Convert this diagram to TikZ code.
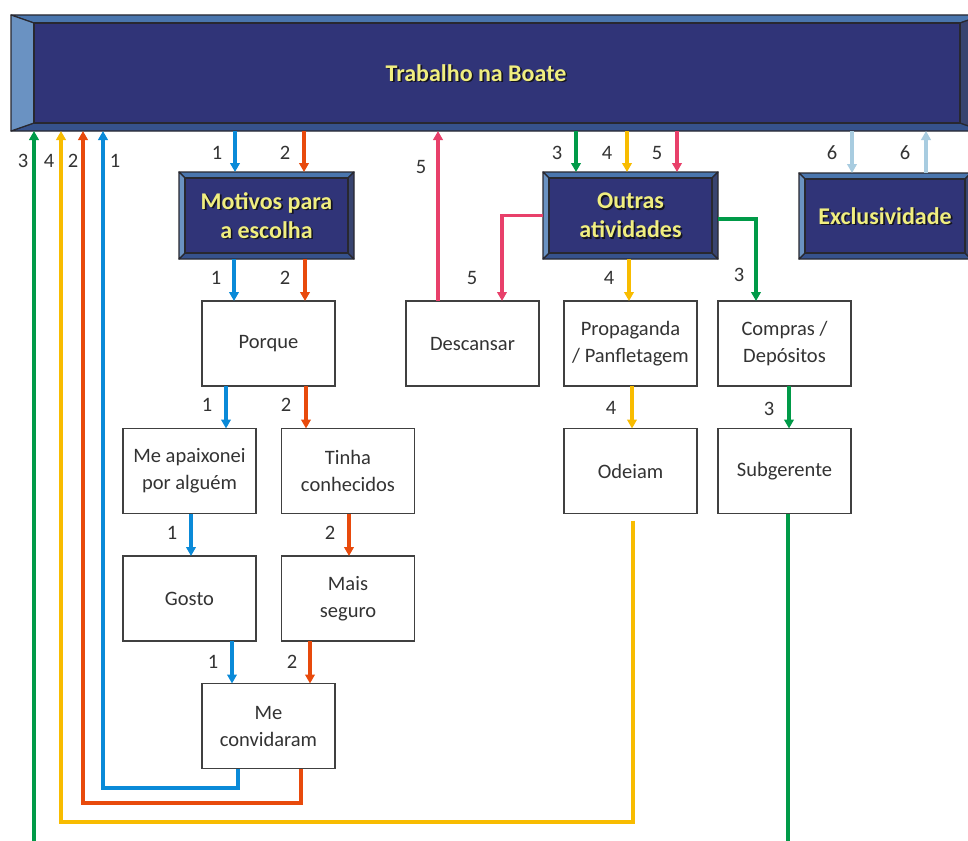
\documentclass[tikz,border=0pt]{standalone}
\usepackage{fontspec}
\setmainfont{Carlito}
\usetikzlibrary{calc,arrows.meta}

\definecolor{face}{RGB}{48,52,120}
\definecolor{bvtop}{RGB}{74,118,174}
\definecolor{bvleft}{RGB}{106,146,194}
\definecolor{bvbot}{RGB}{54,82,140}
\definecolor{bvright}{RGB}{57,68,112}
\definecolor{bvedge}{RGB}{40,40,48}
\definecolor{ytext}{RGB}{240,238,128}
\definecolor{yshadow}{RGB}{20,20,30}
\definecolor{boxline}{RGB}{64,64,64}
\definecolor{txt}{RGB}{51,51,51}
\definecolor{blueA}{RGB}{10,138,216}
\definecolor{redA}{RGB}{232,74,12}
\definecolor{yellowA}{RGB}{248,188,0}
\definecolor{greenA}{RGB}{0,154,72}
\definecolor{pinkA}{RGB}{232,64,106}
\definecolor{lightA}{RGB}{168,204,224}

% bevelled box: name, cx, cy, width, height, side bevel, top/bottom bevel
\newcommand\bevbox[7]{%
  \node[inner sep=0, outer sep=0, minimum width=#4pt, minimum height=#5pt] (#1) at (#2,#3) {};
  \filldraw[fill=bvtop, draw=bvedge, line width=1.2pt, line join=round]
    (#1.north west) -- (#1.north east) -- ([xshift=-#6pt,yshift=-#7pt]#1.north east)
    -- ([xshift=#6pt,yshift=-#7pt]#1.north west) -- cycle;
  \filldraw[fill=bvbot, draw=bvedge, line width=1.2pt, line join=round]
    (#1.south west) -- (#1.south east) -- ([xshift=-#6pt,yshift=#7pt]#1.south east)
    -- ([xshift=#6pt,yshift=#7pt]#1.south west) -- cycle;
  \filldraw[fill=bvleft, draw=bvedge, line width=1.2pt, line join=round]
    (#1.north west) -- ([xshift=#6pt,yshift=-#7pt]#1.north west)
    -- ([xshift=#6pt,yshift=#7pt]#1.south west) -- (#1.south west) -- cycle;
  \filldraw[fill=bvright, draw=bvedge, line width=1.2pt, line join=round]
    (#1.north east) -- ([xshift=-#6pt,yshift=-#7pt]#1.north east)
    -- ([xshift=-#6pt,yshift=#7pt]#1.south east) -- (#1.south east) -- cycle;
  \filldraw[fill=face, draw=bvedge, line width=1.2pt]
    ([xshift=#6pt,yshift=-#7pt]#1.north west) rectangle ([xshift=-#6pt,yshift=#7pt]#1.south east);
}
% yellow caption with a dark drop shadow: name, position, text
\newcommand\ycap[3]{%
  \node[ycapstyle, text=yshadow, xshift=1.6pt, yshift=-1.6pt] at (#2) {#3};
  \node[ycapstyle, text=ytext] (#1) at (#2) {#3};
}
% vertical connector at a fixed x between two anchors
\newcommand\vlink[4]{%
  \coordinate (vx) at (#4,0);
  \draw[#1] (#2 -| vx) -- (#3 -| vx);
}

\begin{document}
\begin{tikzpicture}[x=1pt, y=-1pt,
  ycapstyle/.style={inner sep=0, align=center, font=\fontsize{24}{29}\selectfont\bfseries},
  wbox/.style={draw=boxline, line width=1.4pt, fill=white, minimum width=133pt,
    minimum height=85pt, inner sep=0, outer sep=0, align=center, text=txt,
    font=\fontsize{20.5}{27}\selectfont},
  lbl/.style={text=txt, inner sep=0, font=\fontsize{20.5}{24}\selectfont},
  wire/.style={line width=3.5pt, -{Triangle[length=9pt,width=9.5pt]}},
  bl/.style={wire, draw=blueA},
  rd/.style={wire, draw=redA},
  yl/.style={wire, draw=yellowA},
  gr/.style={wire, draw=greenA},
  pk/.style={wire, draw=pinkA},
  lb/.style={wire, draw=lightA}]

\path[use as bounding box] (0,0) rectangle (968,840);
\clip (0,0) rectangle (968,840);
\fill[white] (0,0) rectangle (968,840);

% headline bar and the three category boxes
\bevbox{top}{497}{73}{972}{116}{23}{8}
\ycap{toptxt}{476,73}{Trabalho na Boate}
\bevbox{mot}{266.5}{215.5}{175}{87}{6}{6}
\ycap{mottxt}{mot}{Motivos para\\a escolha}
\bevbox{out}{630.5}{215.5}{175}{87}{6}{6}
\ycap{outtxt}{out}{Outras\\atividades}
\bevbox{exc}{885}{216}{172}{86}{6}{6}
\ycap{exctxt}{exc}{Exclusividade}

% plain boxes
\node[wbox] (porque) at (268.5,343.5) {Porque};
\node[wbox] (desc)   at (472.5,343.5) {Descansar};
\node[wbox] (prop)   at (630.5,343.5) {Propaganda\\/ Panfletagem};
\node[wbox] (comp)   at (784.5,343.5) {Compras /\\Depósitos};
\node[wbox] (apx)    at (189.5,471) {Me apaixonei\\por alguém};
\node[wbox] (tinha)  at (348,471) {Tinha\\conhecidos};
\node[wbox] (ode)    at (630.5,471) {Odeiam};
\node[wbox] (sub)    at (784.5,471) {Subgerente};
\node[wbox] (gosto)  at (189.5,598.5) {Gosto};
\node[wbox] (mais)   at (348,598.5) {Mais\\seguro};
\node[wbox] (conv)   at (268.5,726) {Me\\convidaram};

% path 1 (blue)
\vlink{bl}{top.south}{mot.north}{235}
\vlink{bl}{mot.south}{porque.north}{234}
\vlink{bl}{porque.south}{apx.north}{226}
\vlink{bl}{apx.south}{gosto.north}{191}
\vlink{bl}{gosto.south}{conv.north}{232}
\coordinate (b1) at (238,0);
\coordinate (b2) at (103,788);
\draw[bl] (conv.south -| b1) |- (b2) -- (top.south -| b2);

% path 2 (red)
\vlink{rd}{top.south}{mot.north}{304}
\vlink{rd}{mot.south}{porque.north}{305}
\vlink{rd}{porque.south}{tinha.north}{306}
\vlink{rd}{tinha.south}{mais.north}{349}
\vlink{rd}{mais.south}{conv.north}{310}
\coordinate (r1) at (301,0);
\coordinate (r2) at (83,803);
\draw[rd] (conv.south -| r1) |- (r2) -- (top.south -| r2);

% path 3 (green)
\vlink{gr}{top.south}{out.north}{576}
\coordinate (g1) at (756,0);
\draw[gr] ([yshift=-3.5pt]out.east) -| (comp.north -| g1);
\vlink{gr}{comp.south}{sub.north}{789}
\coordinate (g2) at (788,0);
\coordinate (g3) at (34,850);
\draw[gr] (sub.south -| g2) |- (g3) -- (top.south -| g3);

% path 4 (yellow)
\vlink{yl}{top.south}{out.north}{627}
\vlink{yl}{out.south}{prop.north}{629}
\vlink{yl}{prop.south}{ode.north}{632}
\coordinate (y1) at (633,0);
\coordinate (y2) at (61,822);
\draw[yl, shorten <=7pt] (ode.south -| y1) |- (y2) -- (top.south -| y2);

% path 5 (pink)
\vlink{pk}{top.south}{out.north}{677}
\coordinate (p1) at (502,0);
\draw[pk] (out.west) -| (desc.north -| p1);
\vlink{pk}{desc.north}{top.south}{438}

% path 6 (light blue)
\vlink{lb}{top.south}{exc.north}{852}
\vlink{lb}{exc.north}{top.south}{926}

% path numbers
\node[lbl] (n3a) at (23,161) {3};
\node[lbl] (n4a) at (49,161) {4};
\node[lbl] (n2a) at (73,161) {2};
\node[lbl] (n1a) at (115,161) {1};
\node[lbl] (nm1) at (217,153) {1};
\node[lbl] (nm2) at (285,153) {2};
\node[lbl] (np1) at (216,278) {1};
\node[lbl] (np2) at (285,278) {2};
\node[lbl] (na1) at (207,405) {1};
\node[lbl] (na2) at (286,405) {2};
\node[lbl] (ng1) at (172,533) {1};
\node[lbl] (ng2) at (330,533) {2};
\node[lbl] (nc1) at (213,662) {1};
\node[lbl] (nc2) at (292,662) {2};
\node[lbl] (n5a) at (421,167) {5};
\node[lbl] (n3b) at (557,153) {3};
\node[lbl] (n4b) at (607,153) {4};
\node[lbl] (n5b) at (657,153) {5};
\node[lbl] (n5c) at (472,278) {5};
\node[lbl] (n4c) at (609,278) {4};
\node[lbl] (n3c) at (739,275) {3};
\node[lbl] (n4d) at (611,408) {4};
\node[lbl] (n3d) at (769,409) {3};
\node[lbl] (n6a) at (832,153) {6};
\node[lbl] (n6b) at (905,153) {6};

\end{tikzpicture}
\end{document}
